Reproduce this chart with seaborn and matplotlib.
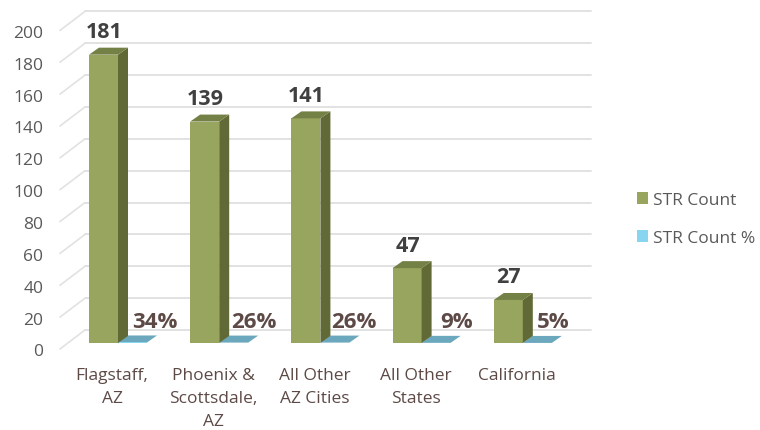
import matplotlib
matplotlib.use("Agg")
import matplotlib.pyplot as plt
from matplotlib.patches import Polygon
from matplotlib.transforms import ScaledTranslation
import pandas as pd
import seaborn as sns

# chart values
categories = ["Flagstaff,\nAZ", "Phoenix &\nScottsdale,\nAZ", "All Other\nAZ Cities", "All Other\nStates", "California"]
str_count = [181, 139, 141, 47, 27]
str_pct = [0.34, 0.26, 0.26, 0.09, 0.05]
pct_labels = ["34%", "26%", "26%", "9%", "5%"]
y_ticks = [0, 20, 40, 60, 80, 100, 120, 140, 160, 180, 200]
series_names = ["STR Count", "STR Count %"]

sns.set_theme(style="white")
plt.rcParams["font.family"] = ["Open Sans", "DejaVu Sans"]

W, H = 760, 431
fig = plt.figure(figsize=(W / 100, H / 100), dpi=100)

# plot area in pixels of the image; y=0 sits on the bar base line
left, right, base, top = 60, 591, 344, 5
ax = fig.add_axes([left / W, (H - base) / H, (right - left) / W, (base - top) / H])

df = pd.DataFrame({
    "category": categories * 2,
    "series": [series_names[0]] * 5 + [series_names[1]] * 5,
    "value": str_count + str_pct,
})
palette = {series_names[0]: "#98A55F", series_names[1]: "#87D5F0"}
sns.barplot(data=df, x="category", y="value", hue="series", hue_order=series_names,
            palette=palette, width=0.574, gap=0, saturation=1, dodge=True,
            legend=False, zorder=3, ax=ax, linewidth=0)

px_x = 101.2   # pixels per category
px_y = 1.593   # pixels per count
ax.set_xlim((left - 118) / px_x, (right - 118) / px_x)
ax.set_ylim(0, (base - top) / px_y)
sns.despine(ax=ax, left=True, bottom=True)
ax.set_xlabel("")
ax.set_ylabel("")


def dx(p):
    return p / px_x


def dy(p):
    return p / px_y


# back wall grid and the diagonals on the side wall
for v in y_ticks:
    back = v + dy(13)
    front = v - dy(6)
    ax.plot([ax.get_xlim()[0] + dx(25), ax.get_xlim()[1]], [back, back],
            color="#E2E2E2", lw=1.4, zorder=1, clip_on=False)
    ax.plot([ax.get_xlim()[0], ax.get_xlim()[0] + dx(25)], [front, back],
            color="#E2E2E2", lw=1.2, zorder=1, clip_on=False)

# 3D depth of the bars
depth_x, depth_y = dx(10), dy(7)
for bar in ax.containers[0]:
    x0, x1, h = bar.get_x(), bar.get_x() + bar.get_width(), bar.get_height()
    ax.add_patch(Polygon([(x1, 0), (x1 + depth_x, depth_y), (x1 + depth_x, h + depth_y), (x1, h)],
                         closed=True, fc="#616A36", ec="none", zorder=3, clip_on=False))
    ax.add_patch(Polygon([(x0, h), (x0 + depth_x, h + depth_y), (x1 + depth_x, h + depth_y), (x1, h)],
                         closed=True, fc="#748146", ec="none", zorder=3, clip_on=False))
for bar in ax.containers[1]:
    x0, x1, h = bar.get_x(), bar.get_x() + bar.get_width(), bar.get_height()
    ax.add_patch(Polygon([(x0, h), (x0 + depth_x, h + depth_y), (x1 + depth_x, h + depth_y), (x1, h)],
                         closed=True, fc="#6BA8BE", ec="none", zorder=2.5, clip_on=False))

# data labels
for i, v in enumerate(str_count):
    ax.annotate(str(v), (i, v), xytext=(-14, 23), textcoords="offset pixels", ha="center", va="center",
                fontsize=15.5, fontweight="bold", color="#404040", zorder=5, annotation_clip=False)
pct_shift = [37, 35, 33, 35, 30]
for i, lab in enumerate(pct_labels):
    ax.annotate(lab, (i, 0), xytext=(pct_shift[i], 21.5), textcoords="offset pixels", ha="center", va="center",
                fontsize=16, fontweight="bold", color="#5D4A46", zorder=5, annotation_clip=False)

# tick labels sit on the front of the floor, not on the bar base
ax.set_yticks(y_ticks)
ax.tick_params(axis="y", length=0, pad=12, labelsize=12.5, labelcolor="#595959")
ax.tick_params(axis="x", length=0, pad=17.5, labelsize=12.5, labelcolor="#5D4A46")
ax.set_xticks(range(len(categories)))
ax.set_xticklabels(categories, linespacing=1.55)
ty = ScaledTranslation(0, -6.5 / 100, fig.dpi_scale_trans)
tx = ScaledTranslation(-6 / 100, 0, fig.dpi_scale_trans)
for t in ax.get_yticklabels():
    t.set_transform(t.get_transform() + ty)
for t in ax.get_xticklabels():
    t.set_transform(t.get_transform() + tx)

# legend
handles = [plt.Rectangle((0, 0), 1, 1, fc=palette[s], ec="none") for s in series_names]
fig.legend(handles, series_names, loc="center left",
           bbox_to_anchor=(637 / W, (H - 220) / H), frameon=False, fontsize=12.5,
           labelcolor="#595959", handlelength=0.65, handleheight=0.65, handletextpad=0.3,
           labelspacing=1.28, borderaxespad=0, borderpad=0)

fig.savefig("out.png", dpi=100)
